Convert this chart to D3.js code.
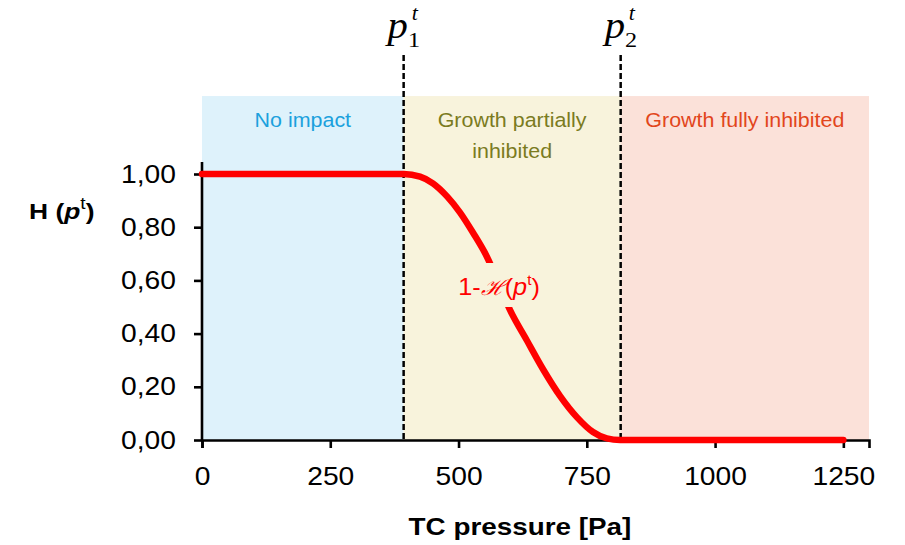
<!DOCTYPE html>
<html>
<head>
<meta charset="utf-8">
<script src="https://cdn.jsdelivr.net/npm/d3@7"></script>
<style>
  body { margin: 0; background: #fff; }
</style>
</head>
<body>
<div id="chart"></div>
<script>
const W = 905, H = 545
const SANS = "Liberation Sans, Arial, sans-serif"
const SERIF = "Liberation Serif, Times New Roman, serif"

// thresholds and zones
const p1 = 393
const p2 = 816
const zones = [
  { name: ["No impact"], from: 0, to: p1, fill: "#def2fb", color: "#1ba1dd" },
  { name: ["Growth partially", "inhibited"], from: p1, to: p2, fill: "#f8f3dc", color: "#7b7b1f" },
  { name: ["Growth fully inhibited"], from: p2, to: 1300, fill: "#fbe1d9", color: "#e2461c" }
]

// curve 1-H(p^t)
const pressure = [0, 100, 200, 300, 393, 425, 450, 478, 503, 528, 555, 578, 600, 633, 665, 698, 731, 762, 789, 815, 900, 1000, 1100, 1250]
const hValue  = [1, 1, 1, 1, 1, 0.99, 0.965, 0.915, 0.855, 0.78, 0.69, 0.59, 0.49, 0.375, 0.265, 0.165, 0.085, 0.03, 0.006, 0, 0, 0, 0, 0]

const xTicks = [0, 250, 500, 750, 1000, 1250]
const yTicks = [0, 0.2, 0.4, 0.6, 0.8, 1]

const svg = d3.select("#chart").append("svg")
  .attr("width", W)
  .attr("height", H)
  .attr("font-family", SANS)

const x = d3.scaleLinear().domain([0, 1300]).range([202, 869])
const y = d3.scaleLinear().domain([0, 1]).range([440, 174])

// the original picture is a bit wider than tall, so widen text around its x
function widen(sel, f) {
  sel.each(function () {
    const ax = +this.getAttribute("x") || 0
    d3.select(this).attr("transform", `translate(${ax},0) scale(${f},1) translate(${-ax},0)`)
  })
}

// zone backgrounds
svg.selectAll("rect.zone")
  .data(zones)
  .enter().append("rect")
    .attr("class", "zone")
    .attr("x", d => x(d.from))
    .attr("width", d => x(d.to) - x(d.from))
    .attr("y", y(1.293))
    .attr("height", y(0) - y(1.293))
    .attr("fill", d => d.fill)

zones.forEach(z => {
  const cx = (x(z.from) + x(z.to)) / 2
  const t = svg.append("text")
    .attr("x", cx)
    .attr("y", 127)
    .attr("text-anchor", "middle")
    .attr("font-size", 19.5)
    .attr("fill", z.color)
  z.name.forEach((s, i) => {
    t.append("tspan")
      .attr("x", cx)
      .attr("dy", i === 0 ? 0 : 31)
      .text(s)
  })
  widen(t, 1.1)
})

// axes
const yAxis = d3.axisLeft(y)
  .tickValues(yTicks)
  .tickSize(8)
  .tickPadding(18)
  .tickFormat(d => d3.format(".2f")(d).replace(".", ","))

const xAxis = d3.axisBottom(x)
  .tickValues(xTicks)
  .tickSize(8)
  .tickPadding(19)
  .tickFormat(d3.format("d"))

const gx = svg.append("g").attr("transform", `translate(0, ${y(0)})`).call(xAxis)
const gy = svg.append("g").attr("transform", `translate(${x(0)}, 0)`).call(yAxis)
gy.select(".domain").attr("d", `M0,${y(0)}V${y(1.045)}`)

;[gx, gy].forEach(g => {
  g.attr("font-family", SANS)
  g.select(".domain").attr("stroke", "#000").attr("stroke-width", 2.6)
  g.selectAll(".tick line").attr("stroke", "#000").attr("stroke-width", 2.6)
  g.selectAll(".tick text")
    .attr("font-size", 25)
    .attr("fill", "#000")
  widen(g.selectAll(".tick text"), 1.13)
})

// threshold lines
svg.selectAll("line.thr")
  .data([p1, p2])
  .enter().append("line")
    .attr("class", "thr")
    .attr("x1", d => x(d)).attr("x2", d => x(d))
    .attr("y1", y(1.447)).attr("y2", y(0))
    .attr("stroke", "#000")
    .attr("stroke-width", 2.5)
    .attr("stroke-dasharray", "6,3")

// the curve
const line = d3.line()
  .x((d, i) => x(pressure[i]))
  .y(d => y(d))
  .curve(d3.curveMonotoneX)

svg.append("path")
  .datum(hValue)
  .attr("d", line)
  .attr("fill", "none")
  .attr("stroke", "#ff0000")
  .attr("stroke-width", 6.5)
  .attr("stroke-linecap", "round")

// curve label with background
svg.append("rect")
  .attr("x", 455).attr("y", 263)
  .attr("width", 88).attr("height", 44)
  .attr("fill", "#f8f3dc")

const lab = svg.append("text")
  .attr("x", 499).attr("y", 295)
  .attr("text-anchor", "middle")
  .attr("font-size", 23)
  .attr("fill", "#ff0000")
lab.append("tspan").text("1-")
lab.append("tspan").attr("font-family", "DejaVu Serif, serif").attr("font-style", "italic").attr("font-size", 21).text("ℋ")
lab.append("tspan").text("(")
lab.append("tspan").attr("font-style", "italic").text("p")
lab.append("tspan").attr("font-size", 14).attr("dy", -10).text("t")
lab.append("tspan").attr("dy", 10).text(")")
widen(lab, 1.1)

// threshold labels
;[{ v: p1, sub: "1" }, { v: p2, sub: "2" }].forEach(p => {
  const t = svg.append("text")
    .attr("x", x(p.v) - 16)
    .attr("y", 38)
    .attr("font-family", SERIF)
    .attr("font-size", 37)
    .attr("fill", "#000")
  t.append("tspan").attr("font-style", "italic").text("p")
  t.append("tspan").attr("font-size", 22).attr("dy", 9).text(p.sub)
  widen(t, 1.1)
  svg.append("text")
    .attr("x", x(p.v) + 8)
    .attr("y", 20)
    .attr("font-family", SERIF)
    .attr("font-style", "italic")
    .attr("font-size", 22)
    .text("t")
})

// axis titles
const xt = svg.append("text")
  .attr("x", 520).attr("y", 535)
  .attr("text-anchor", "middle")
  .attr("font-size", 24)
  .attr("font-weight", "bold")
  .text("TC pressure [Pa]")
widen(xt, 1.16)

const yl = svg.append("text")
  .attr("x", 29).attr("y", 219)
  .attr("font-size", 22)
  .attr("font-weight", "bold")
yl.append("tspan").text("H (")
yl.append("tspan").attr("font-style", "italic").text("p")
yl.append("tspan").attr("font-size", 16).attr("font-weight", "normal").attr("dy", -10).text("t")
yl.append("tspan").attr("dy", 10).text(")")
widen(yl, 1.2)
</script>
</body>
</html>
